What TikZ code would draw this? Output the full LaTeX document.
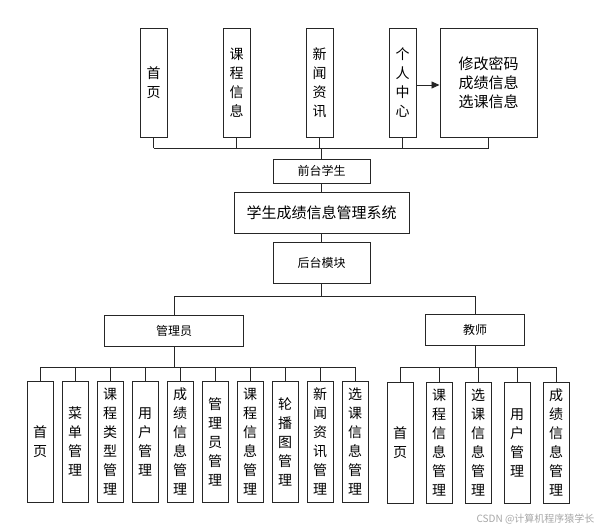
\documentclass[tikz,border=0pt]{standalone}
\usepackage{fontspec}
\setmainfont{Noto Sans CJK SC}
\usetikzlibrary{arrows.meta}
\begin{document}
\begin{tikzpicture}[x=1pt,y=-1pt,
  bx/.style={draw=black!85,line width=1pt,fill=white,inner sep=0pt,align=center,font=\fontsize{14}{19}\selectfont},
  vb/.style={bx,minimum width=27pt,minimum height=#1},
  hb/.style={bx,minimum height=#1},
  ln/.style={draw=black!85,line width=0.9pt}]
\useasboundingbox (0,0) rectangle (603,530);
% top
\node[vb=109pt] (t1) at (153.5,82.5) {首\\页};
\node[vb=109pt] (t2) at (236.5,82.5) {课\\程\\信\\息};
\node[vb=109pt] (t3) at (319.5,82.5) {新\\闻\\资\\讯};
\node[vb=109pt] (t4) at (402.5,82.5) {个\\人\\中\\心};
\node[bx,minimum width=97pt,minimum height=109pt,font=\fontsize{15}{19}\selectfont] (t5) at (488.5,82.5) {修改密码\\成绩信息\\选课信息};
\draw[ln,-{Triangle[length=8pt,width=7pt]}] (t4.east |- 0,85) -- (t5.west |- 0,85);
\node[hb=24pt,minimum width=97pt,font=\fontsize{12}{14}\selectfont] (fs) at (321.5,171) {前台学生};
\node[hb=41pt,minimum width=175pt,font=\fontsize{15}{18}\selectfont] (sys) at (321.5,212.5) {学生成绩信息管理系统};
\node[hb=41pt,minimum width=97pt,font=\fontsize{12}{14}\selectfont] (ht) at (321.5,262.5) {后台模块};
\coordinate (b1) at (0,148);
\foreach \n in {t1,t2,t3,t4,t5} \draw[ln] (\n.south) -- (\n.south |- b1);
\draw[ln] (t1.south |- b1) -- (t5.south |- b1);
\draw[ln] (fs.north |- b1) -- (fs.north);
\draw[ln] (fs) -- (sys);
\draw[ln] (sys) -- (ht);
% roles
\node[hb=31pt,minimum width=139pt,font=\fontsize{12}{14}\selectfont] (adm) at (174,331) {管理员};
\node[hb=31pt,minimum width=99pt,font=\fontsize{12}{14}\selectfont] (tea) at (475,330) {教师};
\coordinate (b2) at (0,296);
\draw[ln] (ht.south) -- (ht.south |- b2);
\draw[ln] (adm.north |- b2) -- (tea.north |- b2);
\draw[ln] (adm.north |- b2) -- (adm.north);
\draw[ln] (tea.north |- b2) -- (tea.north);
\coordinate (b3) at (0,367);
\foreach \x/\t [count=\i] in {40/首\\页,75/菜\\单\\管\\理,110/课\\程\\类\\型\\管\\理,145/用\\户\\管\\理,180/成\\绩\\信\\息\\管\\理,215/管\\理\\员\\管\\理,250/课\\程\\信\\息\\管\\理,285/轮\\播\\图\\管\\理,320/新\\闻\\资\\讯\\管\\理,355/选\\课\\信\\息\\管\\理}{
  \node[vb=121pt,minimum width=26pt] (a\i) at (\x,441.5) {\t};
  \draw[ln] (a\i.north |- b3) -- (a\i.north);
}
\draw[ln] (a1.north |- b3) -- (a10.north |- b3);
\draw[ln] (adm.south) -- (adm.south |- b3);
\foreach \x/\t [count=\i] in {400/首\\页,439/课\\程\\信\\息\\管\\理,478/选\\课\\信\\息\\管\\理,517/用\\户\\管\\理,556/成\\绩\\信\\息\\管\\理}{
  \node[vb=121pt,minimum width=26pt] (e\i) at (\x,442.5) {\t};
  \draw[ln] (e\i.north |- b3) -- (e\i.north);
}
\draw[ln] (e1.north |- b3) -- (e5.north |- b3);
\draw[ln] (tea.south) -- (tea.south |- b3);
\node[text=black!35,font=\fontsize{10}{12}\selectfont,anchor=east] (wm) at (598,519) {CSDN @计算机程序猿学长};
\end{tikzpicture}
\end{document}
